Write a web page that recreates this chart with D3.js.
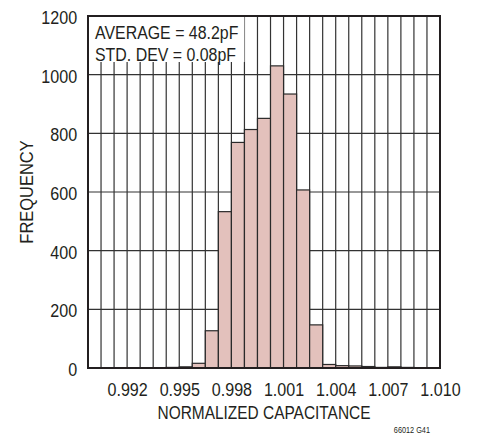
<!DOCTYPE html>
<html>
<head>
<meta charset="utf-8">
<script src="https://cdn.jsdelivr.net/npm/d3@7"></script>
<style>
  body { margin: 0; background: #fff; }
  text { font-family: "Liberation Sans", Arial, sans-serif; fill: #231f20; }
</style>
</head>
<body>
<div id="chart"></div>
<script>
// histogram bins (lower edge, width) and counts
const binStart = 0.98975;
const binWidth = 0.00075;
const counts = [0, 0, 0, 0, 1, 0, 2, 4, 16, 127, 533, 769, 813, 851, 1030, 934, 607, 147, 12, 8, 7, 5, 2, 4, 2, 0, 0];
const xTicks = [0.992, 0.995, 0.998, 1.001, 1.004, 1.007, 1.010];
const yTicks = [0, 200, 400, 600, 800, 1000, 1200];
const notes = ['AVERAGE = 48.2pF', 'STD. DEV = 0.08pF'];

const W = 479, H = 436;
const margin = { top: 16, right: 39, bottom: 68, left: 88 };
const width = W - margin.left - margin.right;
const height = H - margin.top - margin.bottom;
const narrow = 0.87; // the original type is condensed

const bins = counts.map((c, i) => ({ x0: binStart + i * binWidth, x1: binStart + (i + 1) * binWidth, n: c }));

const x = d3.scaleLinear().domain([binStart, binStart + counts.length * binWidth]).range([0, width]);
const y = d3.scaleLinear().domain([0, 1200]).range([height, 0]);

const svg = d3.select('#chart').append('svg').attr('width', W).attr('height', H);
const g = svg.append('g').attr('transform', `translate(${margin.left},${margin.top})`);

function label(parent, tx, ty, txt, size, sx, anchor, rot) {
  return parent.append('text')
    .attr('transform', `translate(${tx},${ty})${rot ? ' rotate(' + rot + ')' : ''} scale(${sx},1)`)
    .attr('text-anchor', anchor)
    .style('font-size', size + 'px')
    .text(txt);
}

// grid
g.append('g').selectAll('line').data(yTicks).join('line')
  .attr('x1', 0).attr('x2', width)
  .attr('y1', d => y(d)).attr('y2', d => y(d))
  .attr('stroke', '#333').attr('stroke-width', 1.2);
g.append('g').selectAll('line').data(bins).join('line')
  .attr('x1', d => x(d.x0)).attr('x2', d => x(d.x0))
  .attr('y1', 0).attr('y2', height)
  .attr('stroke', '#333').attr('stroke-width', 1.2);

// bars
g.append('g').selectAll('rect').data(bins.filter(d => d.n > 0)).join('rect')
  .attr('x', d => x(d.x0))
  .attr('width', d => x(d.x1) - x(d.x0))
  .attr('y', d => y(d.n))
  .attr('height', d => height - y(d.n))
  .attr('fill', '#e3c1bc')
  .attr('stroke', '#2a2a2a').attr('stroke-width', 1.2);

// annotation box
g.append('rect').attr('x', 0).attr('y', 0)
  .attr('width', x(bins[12].x0)).attr('height', 46)
  .attr('fill', '#fff');
notes.forEach((t, i) => label(g, 7, 23 + i * 21.5, t, 18.5, 0.86, 'start'));

// frame
g.append('rect').attr('width', width).attr('height', height)
  .attr('fill', 'none').attr('stroke', '#231f20').attr('stroke-width', 2);

// axes labels
const xAxis = d3.axisBottom(x).tickValues(xTicks).tickFormat(d3.format('.3f')).tickSize(0).tickPadding(15);
g.append('g').attr('transform', `translate(0,${height})`).call(xAxis)
  .call(a => a.select('.domain').remove())
  .selectAll('text').style('font-size', '18.5px').attr('fill', '#231f20')
  .attr('transform', `scale(${narrow},1)`);

const yAxis = d3.axisLeft(y).tickValues(yTicks).tickFormat(d3.format('d')).tickSize(0).tickPadding(12.5);
g.append('g').call(yAxis)
  .call(a => a.select('.domain').remove())
  .selectAll('text').style('font-size', '18.5px').attr('fill', '#231f20').attr('dy', '0.4em')
  .attr('transform', `scale(${narrow},1)`);

label(g, width / 2, height + 51, 'NORMALIZED CAPACITANCE', 18.5, 0.835, 'middle');
label(g, -55, height / 2, 'FREQUENCY', 18.5, 0.89, 'middle', -90);
label(svg, 430, 433, '66012 G41', 9.5, 0.77, 'end');
</script>
</body>
</html>
